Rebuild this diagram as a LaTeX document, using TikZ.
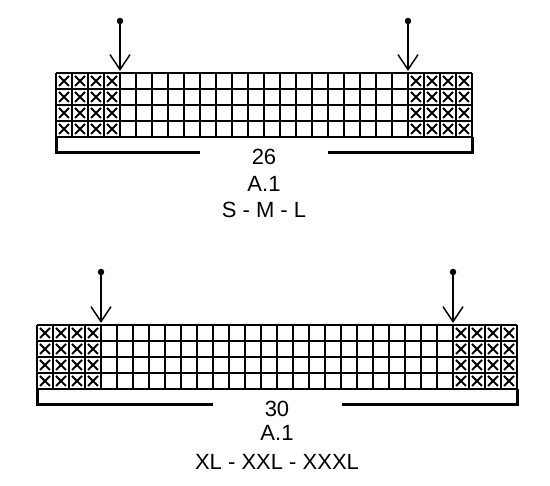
\documentclass[tikz,border=0pt]{standalone}
\usepackage{fontspec}
\setmainfont{Liberation Sans}
\usetikzlibrary{arrows.meta}

\begin{document}
\begin{tikzpicture}[x=1pt,y=-1pt,
	cell/.style={line width=1.5pt},
	cross/.style={line width=2pt},
	bracket/.style={line width=3pt},
	marker/.style={line width=1.5pt,-{Straight Barb[length=15pt,width=20pt,line width=1.5pt]}},
	dot/.style={circle,fill,inner sep=0pt,minimum size=6.5pt},
	label/.style={font=\fontsize{22}{26}\selectfont,inner sep=0pt}]
	\useasboundingbox (0,0) rectangle (550,486);
	% upper chart, 26 stitches
	\foreach \i in {0,...,26} \draw[cell] (56+16*\i,73) -- (56+16*\i,137);
	\foreach \j in {0,...,4} \draw[cell] (56,73+16*\j) -- (472,73+16*\j);
	\foreach \i in {0,1,2,3,22,23,24,25}
		\foreach \j in {0,...,3} {
			\draw[cross] (59+16*\i,76+16*\j) -- ++(10,10);
			\draw[cross] (69+16*\i,76+16*\j) -- ++(-10,10);
		}
	\draw[bracket] (56,137) -- (56,153) -- (200,153);
	\draw[bracket] (328,153) -- (472,153) -- (472,137);
	\node[dot] (dot1) at (120,21) {};
	\node[dot] (dot2) at (408,21) {};
	\coordinate (tip1) at (120,71);
	\coordinate (tip2) at (408,71);
	\draw[marker] (dot1) -- (tip1);
	\draw[marker] (dot2) -- (tip2);
	\node[label] (sts1) at (264,157) {26};
	\node[label] (chart1) at (264,183.5) {A.1};
	\node[label] (size1) at (264,209.5) {S - M - L};
	% lower chart, 30 stitches
	\foreach \i in {0,...,30} \draw[cell] (37+16*\i,325) -- (37+16*\i,389);
	\foreach \j in {0,...,4} \draw[cell] (37,325+16*\j) -- (517,325+16*\j);
	\foreach \i in {0,1,2,3,26,27,28,29}
		\foreach \j in {0,...,3} {
			\draw[cross] (40+16*\i,328+16*\j) -- ++(10,10);
			\draw[cross] (50+16*\i,328+16*\j) -- ++(-10,10);
		}
	\draw[bracket] (37,389) -- (37,405) -- (213,405);
	\draw[bracket] (342,405) -- (517,405) -- (517,389);
	\node[dot] (dot3) at (101,272) {};
	\node[dot] (dot4) at (453,272) {};
	\coordinate (tip3) at (101,323);
	\coordinate (tip4) at (453,323);
	\draw[marker] (dot3) -- (tip3);
	\draw[marker] (dot4) -- (tip4);
	\node[label] (sts2) at (277,408.5) {30};
	\node[label] (chart2) at (277,433) {A.1};
	\node[label] (size2) at (277,461.5) {XL - XXL - XXXL};
\end{tikzpicture}
\end{document}
